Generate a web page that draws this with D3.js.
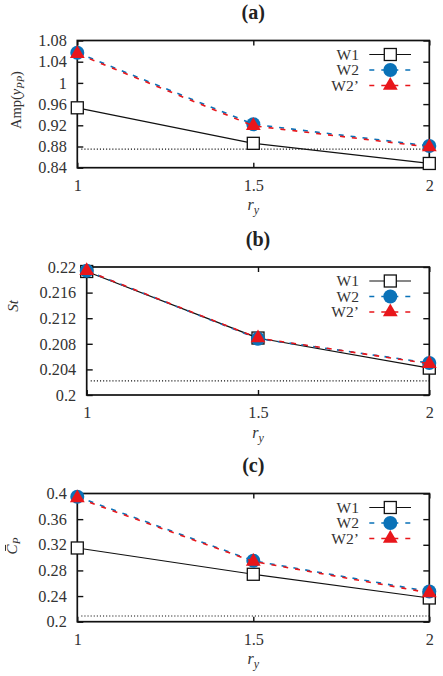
<!DOCTYPE html>
<html><head><meta charset="utf-8">
<script src="https://cdn.jsdelivr.net/npm/d3@7"></script>
<style>
html,body{margin:0;padding:0;background:#fff;}
svg{display:block;}
</style></head>
<body>
<script>
// ---- data ----
const xVals = [1, 1.5, 2];
const xTickLabels = ["1", "1.5", "2"];
const seriesNames = ["W1", "W2", "W2\u2019"];

const ampW1  = [0.953, 0.886, 0.848];
const ampW2  = [1.057, 0.922, 0.881];
const ampW2p = [1.055, 0.919, 0.879];
const ampRef = 0.875;
const ampTicks = [0.84, 0.88, 0.92, 0.96, 1, 1.04, 1.08];

const stW1  = [0.2193, 0.2089, 0.2042];
const stW2  = [0.2194, 0.2088, 0.2050];
const stW2p = [0.2194, 0.2089, 0.2049];
const stRef = 0.2022;
const stTicks = [0.2, 0.204, 0.208, 0.212, 0.216, 0.22];

const cpW1  = [0.315, 0.274, 0.237];
const cpW2  = [0.395, 0.295, 0.247];
const cpW2p = [0.393, 0.294, 0.245];
const cpRef = 0.209;
const cpTicks = [0.2, 0.24, 0.28, 0.32, 0.36, 0.4];

// ---- pick an installed Times-like serif ----
function pickFont(cands) {
  const c = document.createElement("canvas").getContext("2d");
  const s = "W1 0.216 Amp(y) abcdefgh";
  c.font = "40px monospace"; const base = c.measureText(s).width;
  for (const f of cands) {
    c.font = `40px "${f}", monospace`;
    if (Math.abs(c.measureText(s).width - base) > 0.5) return `"${f}"`;
  }
  return "serif";
}
const SERIF = pickFont(["Liberation Serif", "Times New Roman", "Tinos", "Nimbus Roman", "Nimbus Roman No9 L", "FreeSerif", "Noto Serif", "DejaVu Serif"]) + ", serif";

// ---- layout ----
const W = 443, H = 676;
const BLUE = "#0a72b8", RED = "#e8161b", TXT = "#333";
const svg = d3.select("body").append("svg").attr("width", W).attr("height", H)
  .style("font-family", SERIF);

// size a font so that a sample string reaches a target width (clamped)
function fitSize(sample, target, base, opts = {}) {
  const t = svg.append("text").attr("font-size", 20).style("font-family", SERIF)
    .attr("font-weight", opts.bold ? "bold" : null).attr("font-style", opts.italic ? "italic" : null)
    .text(sample);
  const w = t.node().getComputedTextLength();
  t.remove();
  if (!(w > 0)) return base;
  const s = 20 * target / w;
  return Math.max(base * 0.88, Math.min(base * 1.12, s));
}
const TICK_FS = fitSize("1.08", 28.5, 16.3);
const LEG_FS = fitSize("W1", 22.5, 15.5);
const TITLE_FS = fitSize("(a)", 23.5, 18.5, {bold: true});

const panels = [
  {title:"(a)", top:40.5, bottom:167.7, left:77.3, right:429.3, domain:[0.84,1.08], ticks:ampTicks,
   series:[ampW1, ampW2, ampW2p], ref:ampRef, ylabel:"amp", ylx:20.5, yly:100},
  {title:"(b)", top:267, bottom:395, left:86.7, right:429.3, domain:[0.2,0.22], ticks:stTicks,
   series:[stW1, stW2, stW2p], ref:stRef, ylabel:"st", ylx:17.5, yly:306},
  {title:"(c)", top:493.5, bottom:621.7, left:77.3, right:429.3, domain:[0.2,0.4], ticks:cpTicks,
   series:[cpW1, cpW2, cpW2p], ref:cpRef, ylabel:"cp", ylx:17, yly:546}
];

const fmt = d => String(+d.toFixed(4));

panels.forEach(p => {
  const g = svg.append("g");
  const x = d3.scaleLinear().domain([1, 2]).range([p.left, p.right]);
  const y = d3.scaleLinear().domain(p.domain).range([p.bottom, p.top]);
  const midX = (p.left + p.right) / 2;

  // title
  g.append("text").attr("x", midX).attr("y", p.top - 21.5)
    .attr("text-anchor", "middle").attr("font-weight", "bold").attr("font-size", TITLE_FS)
    .attr("fill", "#222").style("font-family", SERIF).text(p.title);

  // axes
  const axL = d3.axisLeft(y).tickValues(p.ticks).tickFormat(fmt).tickSizeInner(-6).tickSizeOuter(0).tickPadding(10.5);
  const axR = d3.axisRight(y).tickValues(p.ticks).tickFormat("").tickSizeInner(-6).tickSizeOuter(0);
  const axB = d3.axisBottom(x).tickValues(xVals).tickFormat((d,i) => xTickLabels[i]).tickSizeInner(-5).tickSizeOuter(0).tickPadding(11.5);
  const axT = d3.axisTop(x).tickValues(xVals).tickFormat("").tickSizeInner(-5).tickSizeOuter(0);

  const gl = g.append("g").attr("transform", `translate(${p.left},0)`).call(axL);
  const gr = g.append("g").attr("transform", `translate(${p.right},0)`).call(axR);
  const gb = g.append("g").attr("transform", `translate(0,${p.bottom})`).call(axB);
  const gt = g.append("g").attr("transform", `translate(0,${p.top})`).call(axT);
  [gl, gr, gb, gt].forEach(a => {
    a.attr("font-family", null).attr("font-size", null);
    a.select(".domain").remove();
    a.selectAll("line").attr("stroke", "#111").attr("stroke-width", 1.4);
    a.selectAll("text").style("font-family", SERIF).attr("font-size", TICK_FS).attr("fill", TXT);
  });

  // reference dotted line
  g.append("line").attr("x1", p.left + 4).attr("x2", p.right)
    .attr("y1", y(p.ref)).attr("y2", y(p.ref))
    .attr("stroke", "#111").attr("stroke-width", 1.1).attr("stroke-dasharray", "1.1,2");

  // frame
  g.append("rect").attr("x", p.left).attr("y", p.top)
    .attr("width", p.right - p.left).attr("height", p.bottom - p.top)
    .attr("fill", "none").attr("stroke", "#111").attr("stroke-width", 1.7);

  const line = d3.line().x((d,i) => x(xVals[i])).y(d => y(d));

  // W1
  g.append("path").attr("d", line(p.series[0])).attr("fill", "none").attr("stroke", "#111").attr("stroke-width", 1.2);
  g.selectAll(null).data(p.series[0]).join("rect")
    .attr("x", (d,i) => x(xVals[i]) - 6).attr("y", d => y(d) - 6)
    .attr("width", 12).attr("height", 12)
    .attr("fill", "#fff").attr("stroke", "#111").attr("stroke-width", 1.3);

  // W2
  g.append("path").attr("d", line(p.series[1])).attr("fill", "none").attr("stroke", BLUE)
    .attr("stroke-width", 1.6).attr("stroke-dasharray", "5,7");
  g.selectAll(null).data(p.series[1]).join("circle")
    .attr("cx", (d,i) => x(xVals[i])).attr("cy", d => y(d)).attr("r", 7).attr("fill", BLUE);

  // W2'
  g.append("path").attr("d", line(p.series[2])).attr("fill", "none").attr("stroke", RED)
    .attr("stroke-width", 1.6).attr("stroke-dasharray", "5,7").attr("stroke-dashoffset", -1.5);
  const tri = d3.symbol().type(d3.symbolTriangle).size(95);
  g.selectAll(null).data(p.series[2]).join("path")
    .attr("d", tri).attr("transform", (d,i) => `translate(${x(xVals[i])},${y(d)})`).attr("fill", RED);

  // legend
  const lx1 = 369.3, lx2 = 411, lxm = 390.3, tx = 359;
  const ly = [p.top + 14, p.top + 29.5, p.top + 45];
  seriesNames.forEach((n, i) => {
    g.append("text").attr("x", tx).attr("y", ly[i]).attr("dy", "0.34em")
      .attr("text-anchor", "end").attr("font-size", LEG_FS).attr("fill", TXT).text(n);
  });
  g.append("line").attr("x1", lx1).attr("x2", lx2).attr("y1", ly[0]).attr("y2", ly[0])
    .attr("stroke", "#111").attr("stroke-width", 1.2);
  g.append("rect").attr("x", lxm - 6).attr("y", ly[0] - 6).attr("width", 12).attr("height", 12)
    .attr("fill", "#fff").attr("stroke", "#111").attr("stroke-width", 1.3);
  g.append("line").attr("x1", lx1).attr("x2", lx2).attr("y1", ly[1]).attr("y2", ly[1])
    .attr("stroke", BLUE).attr("stroke-width", 1.6).attr("stroke-dasharray", "5,7");
  g.append("circle").attr("cx", lxm).attr("cy", ly[1]).attr("r", 7).attr("fill", BLUE);
  g.append("line").attr("x1", lx1).attr("x2", lx2).attr("y1", ly[2]).attr("y2", ly[2])
    .attr("stroke", RED).attr("stroke-width", 1.6).attr("stroke-dasharray", "5,7");
  g.append("path").attr("d", tri).attr("transform", `translate(${lxm},${ly[2]})`).attr("fill", RED);

  // x label
  const xl = g.append("text").attr("x", midX).attr("y", p.bottom + 42.5)
    .attr("text-anchor", "middle").attr("font-size", 16).attr("font-style", "italic").attr("fill", TXT);
  xl.append("tspan").text("r");
  xl.append("tspan").attr("dy", 4).attr("font-size", 12).text("y");

  // y label
  const yg = g.append("g").attr("transform", `translate(${p.ylx},${p.yly}) rotate(-90)`);
  const yl = yg.append("text").attr("text-anchor", "middle").attr("font-size", 15).attr("fill", TXT);
  if (p.ylabel === "amp") {
    yl.attr("font-size", 14.5);
    yl.append("tspan").text("Amp(");
    yl.append("tspan").attr("font-style", "italic").text("y");
    yl.append("tspan").attr("font-style", "italic").attr("font-size", 10.5).attr("dy", 3).text("PP");
    yl.append("tspan").attr("dy", -3).text(")");
  } else if (p.ylabel === "st") {
    yl.append("tspan").attr("font-style", "italic").text("St");
  } else {
    yl.append("tspan").attr("font-style", "italic").text("C");
    yl.append("tspan").attr("font-style", "italic").attr("font-size", 11).attr("dy", 3).text("P");
    const ex = yl.node().getExtentOfChar(0);
    yg.append("line").attr("x1", ex.x + ex.width * 0.35).attr("x2", ex.x + ex.width * 0.95)
      .attr("y1", ex.y + 1.5).attr("y2", ex.y + 1.5)
      .attr("stroke", TXT).attr("stroke-width", 1);
  }
});
</script>
</body></html>
